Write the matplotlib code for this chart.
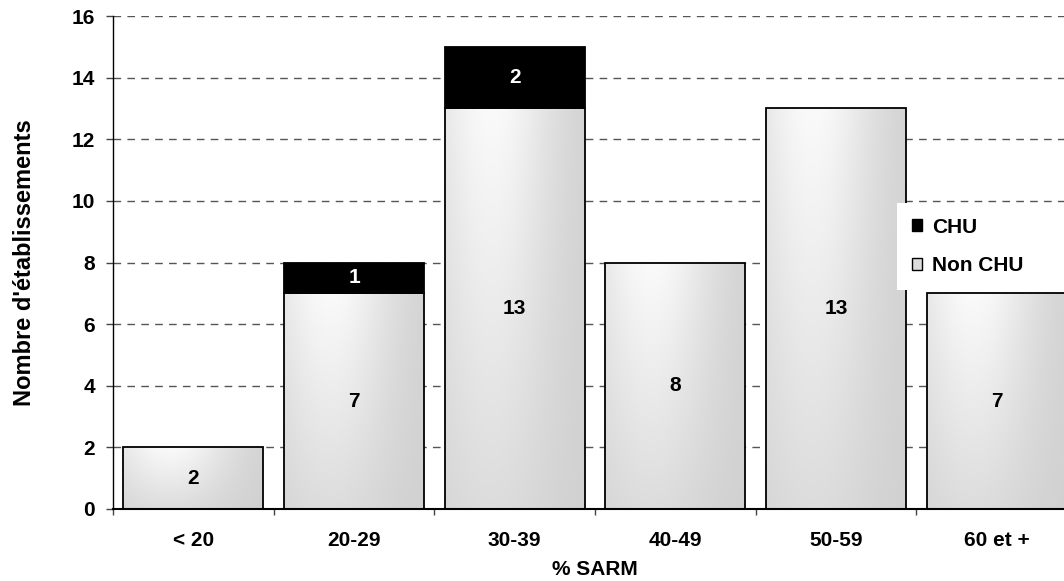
import numpy as np
import matplotlib
matplotlib.use("Agg")
import matplotlib.pyplot as plt
from matplotlib.patches import Patch
from matplotlib.ticker import FixedLocator

# Data: number of establishments per MRSA (% SARM) class
categories = ["< 20", "20-29", "30-39", "40-49", "50-59", "60 et +"]
non_chu = [2, 7, 13, 8, 13, 7]
chu = [0, 1, 2, 0, 0, 0]
y_ticks = [0, 2, 4, 6, 8, 10, 12, 14, 16]

plt.rcParams["font.family"] = ["Liberation Sans", "DejaVu Sans"]
plt.rcParams["font.weight"] = "bold"

fig = plt.figure(figsize=(10.64, 5.81), dpi=100)
ax = fig.add_axes([113 / 1064, 72 / 581, 964 / 1064, 493 / 581])

x = np.arange(len(categories))
bar_w = 0.87

# Soft grey shading used inside the "Non CHU" bars
gy, gx = np.mgrid[1:0:80j, 0:1:120j]
hx = np.exp(-((gx - 0.33) / 0.45) ** 2)
hy = 0.3 + 0.7 * gy
shade = 0.815 + 0.165 * hx * hy
shade_rgb = np.dstack([shade, shade, shade])

bars = ax.bar(x, non_chu, width=bar_w, facecolor="none", edgecolor="black",
              linewidth=1.3, zorder=3)
for patch in bars:
    x0, y0 = patch.get_x(), patch.get_y()
    w, h = patch.get_width(), patch.get_height()
    im = ax.imshow(shade_rgb, extent=(x0, x0 + w, y0, y0 + h), aspect="auto",
                   interpolation="bilinear", zorder=2)
    im.set_clip_path(patch)

chu_idx = [i for i, v in enumerate(chu) if v > 0]
ax.bar([x[i] for i in chu_idx], [chu[i] for i in chu_idx], width=bar_w,
       bottom=[non_chu[i] for i in chu_idx], color="black", edgecolor="black",
       linewidth=1.3, zorder=3)

label_fs = 15
for i, v in enumerate(non_chu):
    ax.text(x[i], v / 2, str(v), ha="center", va="center", fontsize=label_fs,
            fontweight="bold", color="black", zorder=4)
for i in chu_idx:
    ax.text(x[i], non_chu[i] + chu[i] / 2, str(chu[i]), ha="center", va="center",
            fontsize=label_fs, fontweight="bold", color="white", zorder=4)

ax.set_xlim(-0.5, len(categories) - 0.5)
ax.set_ylim(0, 16)

# Axes styling
ax.set_axisbelow(True)
ax.yaxis.grid(True, linestyle=(0, (5.5, 4.5)), color="#555555", linewidth=1.0)
ax.xaxis.grid(False)
for side in ("top", "right"):
    ax.spines[side].set_visible(False)
ax.spines["left"].set_linewidth(1.0)
ax.spines["bottom"].set_linewidth(1.5)

ax.set_yticks(y_ticks)
ax.set_yticklabels([str(t) for t in y_ticks], fontsize=15, fontweight="bold")
ax.tick_params(axis="y", direction="out", length=5, width=1, color="#444444", pad=8)

ax.set_xticks(x)
ax.set_xticklabels(categories, fontsize=15, fontweight="bold")
ax.xaxis.set_minor_locator(FixedLocator(np.arange(-0.5, len(categories), 1.0)))
ax.tick_params(axis="x", which="major", length=0, pad=16)
ax.tick_params(axis="x", which="minor", direction="out", length=4.5, width=1,
               color="#444444")

ax.set_xlabel("% SARM", fontsize=15, fontweight="bold")
ax.xaxis.set_label_coords(0.5, -0.103)
ax.set_ylabel("Nombre d'établissements", fontsize=17, fontweight="bold")
ax.yaxis.set_label_coords(-0.08, 0.5)

handles = [Patch(facecolor="black", edgecolor="black", linewidth=1),
           Patch(facecolor="#dddddd", edgecolor="black", linewidth=1)]
leg = fig.legend(handles, ["CHU", "Non CHU"], loc="upper left",
                 bbox_to_anchor=(897 / 1064, 1 - 203 / 581, 0.2, 0),
                 mode="expand", borderaxespad=0, frameon=True,
                 fancybox=False, facecolor="white", edgecolor="none",
                 framealpha=1, handlelength=0.5, handleheight=0.5,
                 handletextpad=0.5, labelspacing=0.95, borderpad=0.7,
                 prop={"size": 15, "weight": "bold"})

fig.savefig("out.png", dpi=100)
